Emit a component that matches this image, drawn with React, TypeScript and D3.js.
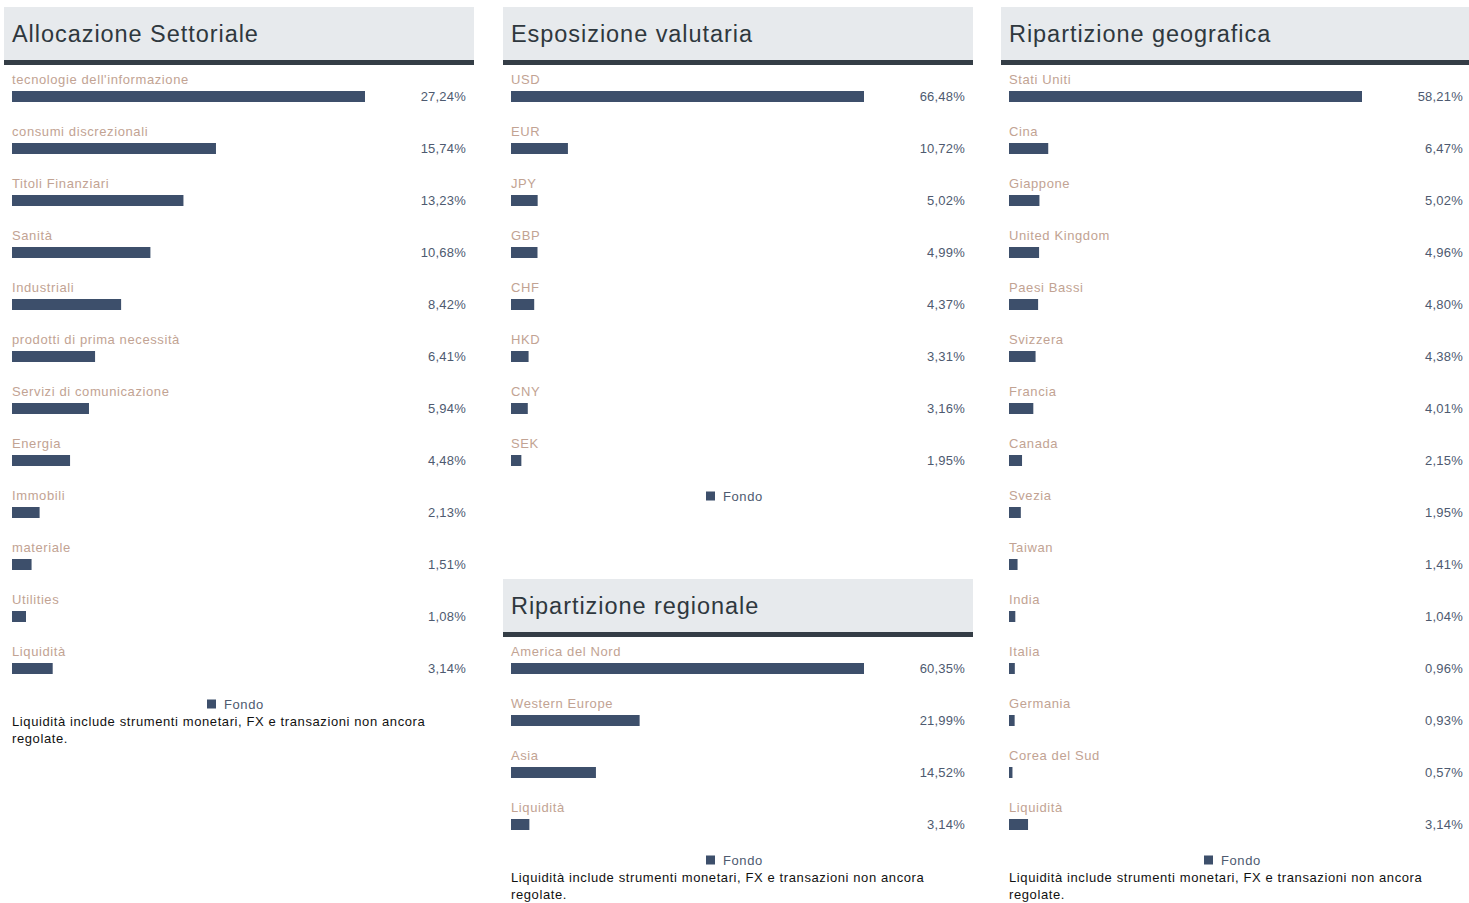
import React from "react";
import * as d3 from "d3";

const sectorLabels = ["tecnologie dell'informazione", "consumi discrezionali", "Titoli Finanziari", "Sanità", "Industriali", "prodotti di prima necessità", "Servizi di comunicazione", "Energia", "Immobili", "materiale", "Utilities", "Liquidità"];
const sectorValues = [27.24, 15.74, 13.23, 10.68, 8.42, 6.41, 5.94, 4.48, 2.13, 1.51, 1.08, 3.14];

const currencyLabels = ["USD", "EUR", "JPY", "GBP", "CHF", "HKD", "CNY", "SEK"];
const currencyValues = [66.48, 10.72, 5.02, 4.99, 4.37, 3.31, 3.16, 1.95];

const regionLabels = ["America del Nord", "Western Europe", "Asia", "Liquidità"];
const regionValues = [60.35, 21.99, 14.52, 3.14];

const countryLabels = ["Stati Uniti", "Cina", "Giappone", "United Kingdom", "Paesi Bassi", "Svizzera", "Francia", "Canada", "Svezia", "Taiwan", "India", "Italia", "Germania", "Corea del Sud", "Liquidità"];
const countryValues = [58.21, 6.47, 5.02, 4.96, 4.8, 4.38, 4.01, 2.15, 1.95, 1.41, 1.04, 0.96, 0.93, 0.57, 3.14];

const legendLabel = "Fondo";
const footnoteLines = ["Liquidità include strumenti monetari, FX e transazioni non ancora", "regolate."];

const FONT = "'Liberation Sans', Arial, sans-serif";
const BAR = "#3d4f6b";
const LABEL = "#c2a393";
const VALUE = "#4e5a70";
const LS = 0.6;

const fmt = (v: number) => d3.format(".2f")(v).replace(".", ",") + "%";

type PanelProps = {
  x: number;
  y: number;
  title: string;
  labels: string[];
  values: number[];
  footnote?: boolean;
};

function Panel({ x, y, title, labels, values, footnote }: PanelProps) {
  const W = 470;
  const xScale = d3.scaleLinear().domain([0, d3.max(values) as number]).range([0, 353]);
  const yScale = d3.scaleBand<number>().domain(d3.range(labels.length)).range([0, 52 * labels.length]);
  const n = labels.length;
  const lastBar = 84 + 52 * (n - 1);
  const legendCy = lastBar + 41;
  const cx = W / 2;
  return (
    <g transform={`translate(${x},${y})`}>
      <rect x={0} y={0} width={W} height={53} fill="#e7eaed" />
      <rect x={0} y={53} width={W} height={5} fill="#343d46" />
      <text x={8} y={35} fontSize={23.5} letterSpacing={0.95} fill="#2f383e" fontFamily={FONT}>{title}</text>
      {labels.map((l, i) => {
        const ry = yScale(i) as number;
        return (
          <g key={i} transform={`translate(0,${ry})`}>
            <text x={8} y={77} fontSize={13} letterSpacing={LS} fill={LABEL} fontFamily={FONT}>{l}</text>
            <rect x={8} y={84} width={xScale(values[i])} height={11} fill={BAR} />
            <text x={W - 8} y={93.5} fontSize={13} letterSpacing={LS * 0.35} fill={VALUE} textAnchor="end" fontFamily={FONT}>{fmt(values[i])}</text>
          </g>
        );
      })}
      <rect x={cx - 32} y={legendCy - 4.5} width={9} height={9} fill={BAR} />
      <text x={cx - 15} y={legendCy + 4.5} fontSize={13} letterSpacing={LS} fill={VALUE} fontFamily={FONT}>{legendLabel}</text>
      {footnote &&
        footnoteLines.map((t, i) => (
          <text key={i} x={8} y={lastBar + 63 + 17 * i} fontSize={13} letterSpacing={LS} fill="#111" fontFamily={FONT}>{t}</text>
        ))}
    </g>
  );
}

export default function App() {
  return (
    <svg width={1469} height={903} style={{ position: "absolute", left: 0, top: 0, background: "#fff" }}>
      <Panel x={4} y={7} title="Allocazione Settoriale" labels={sectorLabels} values={sectorValues} footnote />
      <Panel x={503} y={7} title="Esposizione valutaria" labels={currencyLabels} values={currencyValues} />
      <Panel x={503} y={579} title="Ripartizione regionale" labels={regionLabels} values={regionValues} footnote />
      <Panel x={1001} y={7} title="Ripartizione geografica" labels={countryLabels} values={countryValues} footnote />
    </svg>
  );
}
